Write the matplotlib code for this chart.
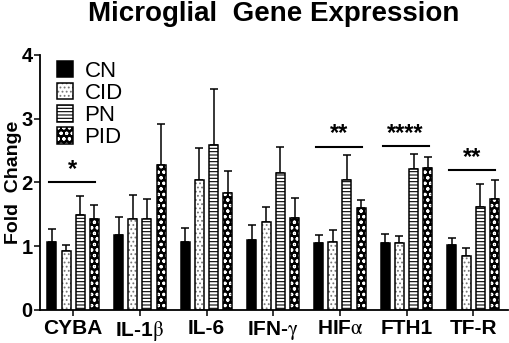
import numpy as np
import matplotlib
matplotlib.use('Agg')
from matplotlib import pyplot as plt
from matplotlib.patches import Patch

plt.rcParams['font.family'] = ['Liberation Sans', 'DejaVu Sans']
plt.rcParams['mathtext.fontset'] = 'stix'
plt.rcParams['hatch.linewidth'] = 0.8

# 数据
genes = ['CYBA', 'IL-1$\\mathrm{\\beta}$', 'IL-6', 'IFN-$\\mathrm{\\gamma}$',
         'HIF$\\mathrm{\\alpha}$', 'FTH1', 'TF-R']
groups = ['CN', 'CID', 'PN', 'PID']

cn = [1.07, 1.18, 1.06, 1.10, 1.04, 1.05, 1.01]
cn_err = [0.20, 0.28, 0.22, 0.23, 0.14, 0.14, 0.12]
cid = [0.92, 1.42, 2.03, 1.37, 1.06, 1.04, 0.84]
cid_err = [0.10, 0.38, 0.51, 0.24, 0.19, 0.11, 0.13]
pn = [1.48, 1.43, 2.59, 2.15, 2.03, 2.21, 1.61]
pn_err = [0.30, 0.31, 0.88, 0.40, 0.40, 0.24, 0.37]
pid = [1.43, 2.27, 1.83, 1.44, 1.59, 2.23, 1.74]
pid_err = [0.22, 0.65, 0.34, 0.32, 0.14, 0.16, 0.30]

# 显著性标记
sig_idx = [0, 4, 5, 6]
sig_y = [2.0, 2.56, 2.57, 2.19]
sig_text = ['*', '**', '****', '**']

# 每组的样式: 填充色, 花纹, 花纹颜色
styles = [
    ('black', '', 'black'),
    ('white', '....', '#777777'),
    ('white', '-----', 'black'),
    ('black', 'ooo', 'white'),
]

def main():
    fig = plt.figure(figsize=(5.1, 3.43), dpi=100)
    ax = fig.add_axes([0.078, 0.097, 0.918, 0.743])

    x = np.arange(len(genes))
    step = 0.213
    width = 0.135
    values = [cn, cid, pn, pid]
    errs = [cn_err, cid_err, pn_err, pid_err]
    handles = []
    for k in range(4):
        face, hatch, hcol = styles[k]
        pos = x + (k - 1.5) * step
        # 先画填充和花纹，再画黑色边框
        ax.bar(pos, values[k], width, color=face, hatch=hatch, edgecolor=hcol,
               linewidth=0, zorder=2)
        ax.bar(pos, values[k], width, fill=False, edgecolor='black',
               linewidth=1.1, zorder=3)
        ax.errorbar(pos, values[k], yerr=[np.zeros(len(genes)), errs[k]],
                    fmt='none', ecolor='black', elinewidth=1.1, capsize=3.2,
                    capthick=1.1, zorder=1)
        p1 = Patch(facecolor=face, hatch=hatch, edgecolor=hcol, linewidth=0)
        p2 = Patch(fill=False, edgecolor='black', linewidth=1.1)
        handles.append((p1, p2))

    # 显著性横线和星号
    for i, h, s in zip(sig_idx, sig_y, sig_text):
        ax.plot([i - 0.36, i + 0.33], [h, h], color='black', lw=1.5)
        ax.text(i - 0.015, h + 0.02, s, ha='center', va='bottom',
                fontsize=17, fontweight='bold')

    ax.set_xlim(-0.5, 6.52)
    ax.set_ylim(0, 4)
    ax.set_yticks([0, 1, 2, 3, 4])
    ax.set_xticks(x)
    ax.set_xticklabels(genes, fontsize=15, fontweight='bold')
    for lab in ax.get_yticklabels():
        lab.set_fontsize(14.5)
        lab.set_fontweight('bold')
    ax.tick_params(axis='both', width=1.1, length=4)
    ax.tick_params(axis='y', pad=1)
    ax.tick_params(axis='x', pad=3)
    for sp in ['top', 'right']:
        ax.spines[sp].set_visible(False)
    for sp in ['left', 'bottom']:
        ax.spines[sp].set_linewidth(1.3)

    ax.set_ylabel('Fold  Change', fontsize=14, fontweight='bold')
    ax.yaxis.set_label_coords(-0.039, 0.5)
    fig.text(0.537, 1 - 21 / 343, 'Microglial  Gene Expression', ha='center',
             va='baseline', fontsize=20, fontweight='bold')

    ax.legend(handles, groups, loc='upper left', bbox_to_anchor=(0.036, 0.976),
              frameon=False, fontsize=16, handlelength=0.75, handleheight=0.75,
              handletextpad=0.5, labelspacing=0.05, borderaxespad=0.0,
              borderpad=0.0)

    fig.savefig('out.png', dpi=100)

main()
